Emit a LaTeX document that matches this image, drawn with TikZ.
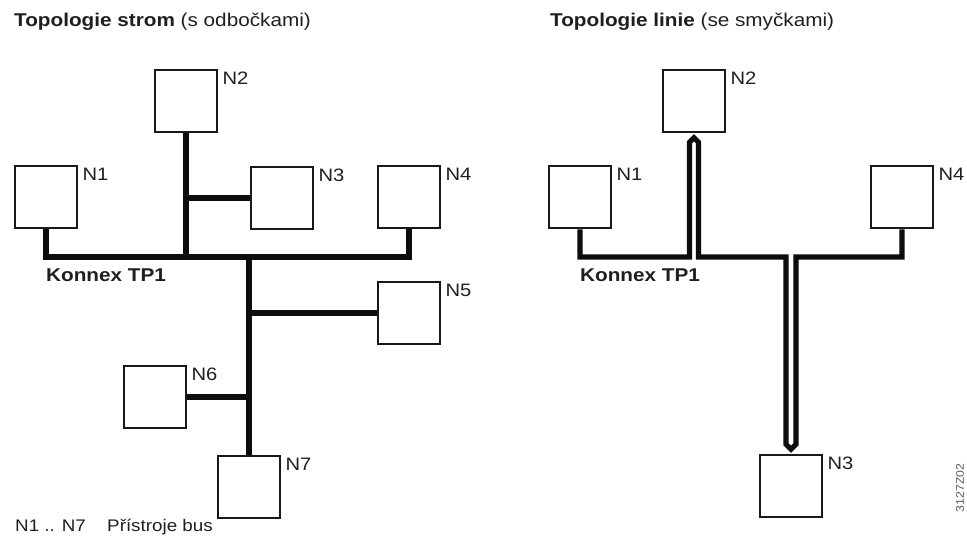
\documentclass[tikz,border=0pt]{standalone}
\usepackage{fontspec}
\setmainfont{Liberation Sans}[FakeStretch=1.12]
\usetikzlibrary{calc}
\begin{document}
\begin{tikzpicture}[x=1pt,y=-1pt,
  dev/.style={draw=black!90, line width=2.6pt, minimum width=62pt, minimum height=62pt, inner sep=0pt, fill=white},
  bus/.style={line width=5.2pt, line join=miter, draw=black!95},
  lbl/.style={anchor=north west, inner sep=0pt, font=\fontsize{18}{21}\selectfont, text=black!88, xshift=4pt, yshift=-3pt},
  txt/.style={inner sep=0pt, font=\fontsize{18.5}{21}\selectfont, text=black!88, anchor=base west},
  legtxt/.style={txt, font=\fontsize{16.8}{20}\selectfont}]
\useasboundingbox (0,0) rectangle (967,545);

% titles
\node[txt] (t1) at (14,27) {\textbf{Topologie strom} (s odbočkami)};
\node[txt] (t2) at (550,27) {\textbf{Topologie linie} (se smyčkami)};

% left tree
\coordinate (bus) at (0,257);
\node[dev] (l1) at (46,197) {};
\node[dev] (l2) at (186,101) {};
\node[dev] (l3) at (282,198) {};
\node[dev] (l4) at (409,197) {};
\node[dev] (l5) at (409,313) {};
\node[dev] (l6) at (155,397) {};
\node[dev] (l7) at (249,487) {};
\foreach \n/\t in {l1/N1,l2/N2,l3/N3,l4/N4,l5/N5,l6/N6,l7/N7}
  \node[lbl] (\n lab) at (\n.north east) {\t};

\draw[bus] (l1.south) -- (l1.south |- bus) -- (l4.south |- bus) -- (l4.south);
\draw[bus] (l2.south) -- (l2.south |- bus);
\draw[bus] (l3.west) -- (l3.west -| l2.south);
\draw[bus] (l7.north |- bus) -- (l7.north);
\draw[bus] (l5.west) -- (l5.west -| l7.north);
\draw[bus] (l6.east) -- (l6.east -| l7.north);

\node[txt, font=\bfseries\fontsize{18.5}{21}\selectfont] (k1) at (46,282) {Konnex TP1};

% right line
\node[dev] (r1) at (580,197) {};
\node[dev] (r2) at (694,101) {};
\node[dev] (r4) at (902,197) {};
\node[dev] (r3) at (791,486) {};
\foreach \n/\t in {r1/N1,r2/N2,r3/N3,r4/N4}
  \node[lbl] (\n lab) at (\n.north east) {\t};

\draw[bus] (r1.south) -- (r1.south |- bus)
  -- ($(r2.south |- bus)+(-4.5,0)$) -- ($(r2.south)+(-4.5,9)$) -- ($(r2.south)+(0,4.5)$)
  -- ($(r2.south)+(4.5,9)$) -- ($(r2.south |- bus)+(4.5,0)$)
  -- ($(r3.north |- bus)+(-5,0)$) -- ($(r3.north)+(-5,-9.5)$) -- ($(r3.north)+(0,-4.5)$)
  -- ($(r3.north)+(5,-9.5)$) -- ($(r3.north |- bus)+(5,0)$)
  -- (r4.south |- bus) -- (r4.south);

\node[txt, font=\bfseries\fontsize{18.5}{21}\selectfont] (k2) at (580,282) {Konnex TP1};

% legend
\node[legtxt] (leg1) at (15,531) {N1 .. N7};
\node[legtxt] (leg2) at (107,531) {Přístroje bus};
\node[rotate=90, inner sep=0pt, font=\fontsize{11}{12}\selectfont, text=black!65] (code) at (960,488) {3127Z02};
\end{tikzpicture}
\end{document}
